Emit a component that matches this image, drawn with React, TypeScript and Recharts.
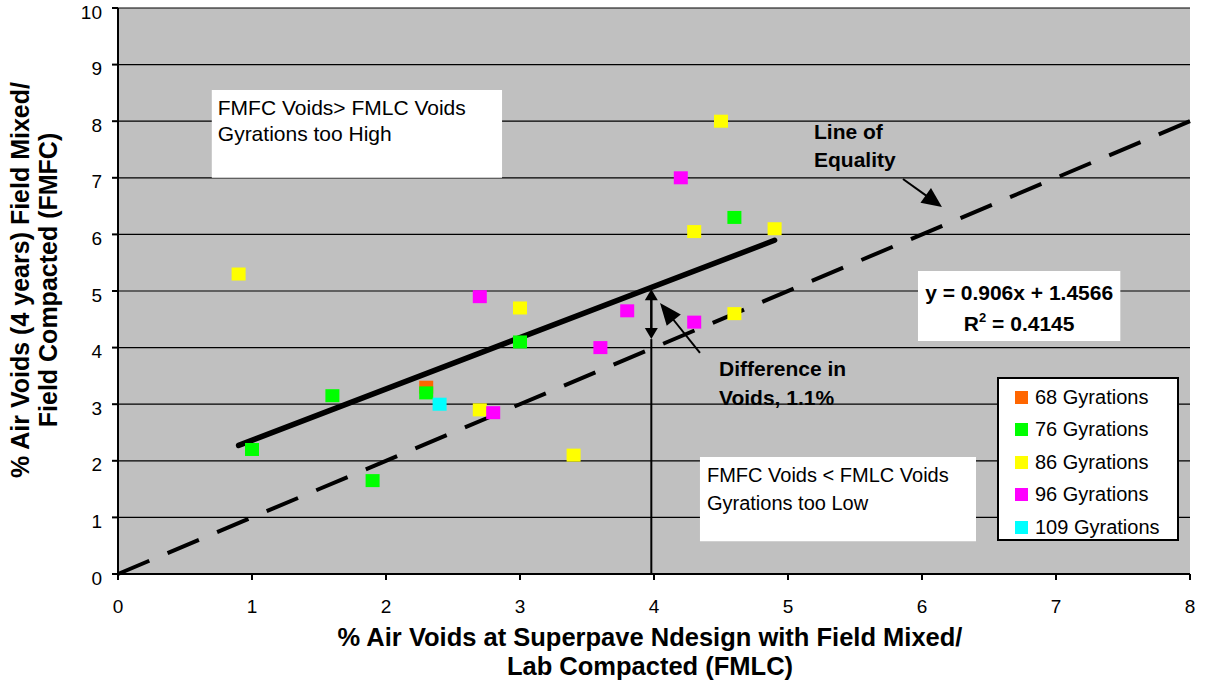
import React from 'react';
import {
  ScatterChart,
  Scatter,
  XAxis,
  YAxis,
  CartesianGrid,
  ReferenceLine,
  ReferenceArea,
  Legend,
} from 'recharts';

const FONT = '"Liberation Sans", Arial, Helvetica, sans-serif';

// ---- data ----
const xTicks = [0, 1, 2, 3, 4, 5, 6, 7, 8];
const yTicks = [0, 1, 2, 3, 4, 5, 6, 7, 8, 9, 10];

const gyr68 = [{ x: 2.3, y: 3.3 }];
const gyr76 = [
  { x: 1.0, y: 2.2 },
  { x: 1.6, y: 3.15 },
  { x: 1.9, y: 1.65 },
  { x: 2.3, y: 3.2 },
  { x: 3.0, y: 4.1 },
  { x: 4.6, y: 6.3 },
];
const gyr86 = [
  { x: 0.9, y: 5.3 },
  { x: 2.7, y: 2.9 },
  { x: 3.0, y: 4.7 },
  { x: 3.4, y: 2.1 },
  { x: 4.3, y: 6.05 },
  { x: 4.5, y: 8.0 },
  { x: 4.9, y: 6.1 },
  { x: 4.6, y: 4.6 },
];
const gyr96 = [
  { x: 2.7, y: 4.9 },
  { x: 2.8, y: 2.85 },
  { x: 3.6, y: 4.0 },
  { x: 3.8, y: 4.65 },
  { x: 4.2, y: 7.0 },
  { x: 4.3, y: 4.45 },
];
const gyr109 = [{ x: 2.4, y: 3.0 }];

const seriesNames = ['68 Gyrations', '76 Gyrations', '86 Gyrations', '96 Gyrations', '109 Gyrations'];
const seriesColors = ['#FF6600', '#00FF00', '#FFFF00', '#FF00FF', '#00FFFF'];
const seriesData = [gyr68, gyr76, gyr86, gyr96, gyr109];

// trendline (from fitted equation)
const trendSlope = 0.906;
const trendIntercept = 1.4566;
const trendXRange = [0.9, 4.9];
const trendSegment = trendXRange.map((x) => ({ x, y: trendSlope * x + trendIntercept }));
const equalitySegment = [{ x: 0, y: 0 }, { x: 8, y: 8 }];

// annotation anchors (data units)
const diffX = 3.98;
const diffArrowSegment = [{ x: diffX, y: 4.15 }, { x: diffX, y: 5.03 }];
const diffStemSegment = [{ x: diffX, y: 0 }, { x: diffX, y: 4.15 }];
const diffPointerSegment = [{ x: 4.343, y: 3.905 }, { x: 4.045, y: 4.788 }];
const equalityPointerSegment = [{ x: 5.858, y: 6.979 }, { x: 6.149, y: 6.484 }];

// ---- helpers ----
const squareShape = (color: string) => (props: any) => {
  const { cx, cy } = props;
  if (cx == null || cy == null) return <g />;
  return <rect x={cx - 7} y={cy - 6.5} width={14} height={13} fill={color} />;
};

const arrowShape = (opts: { start?: boolean; end?: boolean; len: number; half: number; width: number }) =>
  (p: any) => {
    const { x1, y1, x2, y2 } = p;
    const dx = x2 - x1;
    const dy = y2 - y1;
    const L = Math.hypot(dx, dy) || 1;
    const ux = dx / L;
    const uy = dy / L;
    const head = (tx: number, ty: number, dirx: number, diry: number) => {
      const bx = tx - dirx * opts.len;
      const by = ty - diry * opts.len;
      const px = -diry * opts.half;
      const py = dirx * opts.half;
      return `M${tx},${ty} L${bx + px},${by + py} L${bx - px},${by - py} Z`;
    };
    const sx = opts.start ? x1 + ux * opts.len * 0.8 : x1;
    const sy = opts.start ? y1 + uy * opts.len * 0.8 : y1;
    const ex = opts.end ? x2 - ux * opts.len * 0.8 : x2;
    const ey = opts.end ? y2 - uy * opts.len * 0.8 : y2;
    return (
      <g>
        <line x1={sx} y1={sy} x2={ex} y2={ey} stroke="#000" strokeWidth={opts.width} />
        {opts.end && <path d={head(x2, y2, ux, uy)} fill="#000" />}
        {opts.start && <path d={head(x1, y1, -ux, -uy)} fill="#000" />}
      </g>
    );
  };

const textBlock = (
  lines: React.ReactNode[],
  o: { dx: number; dy: number; lh: number; bold?: boolean; size: number; anchor?: 'start' | 'middle' }
) => (props: any) => {
  const vb = props.viewBox || {};
  const x0 = o.anchor === 'middle' ? vb.x + vb.width / 2 : vb.x + o.dx;
  return (
    <g>
      {lines.map((l, i) => (
        <text
          key={i}
          x={x0}
          y={vb.y + o.dy + i * o.lh}
          fontFamily={FONT}
          fontSize={o.size}
          fontWeight={o.bold ? 'bold' : 'normal'}
          textAnchor={o.anchor || 'start'}
          fill="#000"
        >
          {l}
        </text>
      ))}
    </g>
  );
};

const renderLegend = () => (
  <div
    style={{
      width: 182,
      height: 164,
      boxSizing: 'border-box',
      border: '2px solid #000',
      background: '#fff',
      fontFamily: FONT,
      fontSize: 20,
      paddingTop: 2,
    }}
  >
    {seriesNames.map((n, i) => (
      <div key={n} style={{ height: 32.5, display: 'flex', alignItems: 'center' }}>
        <span
          style={{
            display: 'inline-block',
            width: 13,
            height: 13,
            background: seriesColors[i],
            marginLeft: 16,
            marginRight: 7,
          }}
        />
        <span style={{ color: '#000' }}>{n}</span>
      </div>
    ))}
  </div>
);

const yTick = (p: any) => (
  <text x={p.x} y={p.y + 10.5} textAnchor="end" fontFamily={FONT} fontSize={19} fill="#000">
    {p.payload.value}
  </text>
);

const xTitle = (props: any) => {
  const vb = props.viewBox;
  const cx = vb.x + vb.width / 2 - 4;
  return (
    <g>
      <text x={cx} y={646} textAnchor="middle" fontFamily={FONT} fontSize={25.5} fontWeight="bold" fill="#000">
        % Air Voids at Superpave Ndesign with Field Mixed/
      </text>
      <text x={cx} y={675} textAnchor="middle" fontFamily={FONT} fontSize={25.5} fontWeight="bold" fill="#000">
        Lab Compacted (FMLC)
      </text>
    </g>
  );
};

const yTitle = () => {
  const cy = 280;
  return (
    <g>
      <text
        x={0}
        y={0}
        transform={`translate(29, ${cy}) rotate(-90)`}
        textAnchor="middle"
        fontFamily={FONT}
        fontSize={25}
        fontWeight="bold"
        fill="#000"
      >
        % Air Voids (4 years) Field Mixed/
      </text>
      <text
        x={0}
        y={0}
        transform={`translate(57, ${cy}) rotate(-90)`}
        textAnchor="middle"
        fontFamily={FONT}
        fontSize={25}
        fontWeight="bold"
        fill="#000"
      >
        Field Compacted (FMFC)
      </text>
    </g>
  );
};

export default function App() {
  return (
    <div style={{ width: 1208, height: 685, background: '#fff' }}>
      <style>{'body{margin:0;}'}</style>
      <ScatterChart width={1208} height={685} margin={{ top: 8, right: 18, bottom: 0, left: 0 }}>
        <CartesianGrid vertical={false} stroke="#000" strokeWidth={1.2} fill="#C0C0C0" fillOpacity={1} />
        <XAxis
          type="number"
          dataKey="x"
          domain={[0, 8]}
          ticks={xTicks}
          interval={0}
          height={111}
          tickSize={6}
          tickMargin={20}
          axisLine={{ stroke: '#000', strokeWidth: 2 }}
          tickLine={{ stroke: '#000', strokeWidth: 2 }}
          tick={{ fill: '#000', fontSize: 19, fontFamily: FONT }}
          label={{ content: xTitle }}
        />
        <YAxis
          type="number"
          dataKey="y"
          domain={[0, 10]}
          ticks={yTicks}
          interval={0}
          width={118}
          tickSize={6}
          tickMargin={10}
          axisLine={{ stroke: '#000', strokeWidth: 2 }}
          tickLine={{ stroke: '#000', strokeWidth: 2 }}
          tick={yTick}
          label={{ content: yTitle }}
        />

        <ReferenceArea
          x1={0.7}
          x2={2.866}
          y1={7.0}
          y2={8.55}
          fill="#fff"
          fillOpacity={1}
          stroke="none"
          ifOverflow="visible"
          label={{
            content: textBlock(['FMFC Voids> FMLC Voids', 'Gyrations too High'], { dx: 6, dy: 25, lh: 26, size: 21 }),
          }}
        />
        <ReferenceArea
          x1={4.343}
          x2={6.403}
          y1={0.58}
          y2={2.067}
          fill="#fff"
          fillOpacity={1}
          stroke="none"
          ifOverflow="visible"
          label={{
            content: textBlock(['FMFC Voids < FMLC Voids', 'Gyrations too Low'], { dx: 7, dy: 25, lh: 28, size: 20 }),
          }}
        />
        <ReferenceArea
          x1={5.97}
          x2={7.48}
          y1={4.117}
          y2={5.353}
          fill="#fff"
          fillOpacity={1}
          stroke="none"
          ifOverflow="visible"
          label={{
            content: textBlock(
              [
                'y = 0.906x + 1.4566',
                <tspan key="r">
                  R<tspan dy={-9} fontSize={13}>2</tspan>
                  <tspan dy={9}> = 0.4145</tspan>
                </tspan>,
              ],
              { dx: 0, dy: 29, lh: 31, size: 21, bold: true, anchor: 'middle' }
            ),
          }}
        />
        <ReferenceArea
          x1={5.194}
          x2={6.5}
          y1={7.3}
          y2={7.95}
          fill="none"
          fillOpacity={0}
          stroke="none"
          ifOverflow="visible"
          label={{ content: textBlock(['Line of', 'Equality'], { dx: 0, dy: 15, lh: 28, size: 21, bold: true }) }}
        />
        <ReferenceArea
          x1={4.485}
          x2={5.8}
          y1={3.1}
          y2={3.95}
          fill="none"
          fillOpacity={0}
          stroke="none"
          ifOverflow="visible"
          label={{
            content: textBlock(['Difference in', 'Voids, 1.1%'], { dx: 0, dy: 26, lh: 29, size: 21, bold: true }),
          }}
        />

        <ReferenceLine
          segment={equalitySegment}
          stroke="#000"
          strokeWidth={4}
          strokeDasharray="34 19.8"
          ifOverflow="visible"
        />
        <ReferenceLine segment={trendSegment} stroke="#000" strokeWidth={5.5} strokeLinecap="round" ifOverflow="visible" />
        <ReferenceLine segment={diffStemSegment} stroke="#000" strokeWidth={2} ifOverflow="visible" />
        <ReferenceLine
          segment={diffArrowSegment}
          ifOverflow="visible"
          shape={arrowShape({ start: true, end: true, len: 11, half: 6.5, width: 2.5 })}
        />
        <ReferenceLine
          segment={diffPointerSegment}
          ifOverflow="visible"
          shape={arrowShape({ end: true, len: 22, half: 9, width: 2 })}
        />
        <ReferenceLine
          segment={equalityPointerSegment}
          ifOverflow="visible"
          shape={arrowShape({ end: true, len: 20, half: 9, width: 2 })}
        />

        {seriesData.map((d, i) => (
          <Scatter
            key={seriesNames[i]}
            name={seriesNames[i]}
            data={d}
            fill={seriesColors[i]}
            shape={squareShape(seriesColors[i])}
            isAnimationActive={false}
          />
        ))}

        <Legend
          layout="vertical"
          align="center"
          verticalAlign="middle"
          content={renderLegend}
          wrapperStyle={{ position: 'absolute', left: 997, top: 377, width: 182, height: 164 }}
        />
      </ScatterChart>
    </div>
  );
}
